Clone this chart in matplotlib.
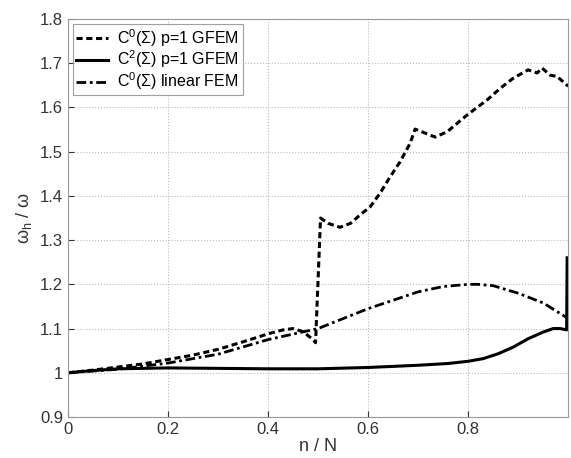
import matplotlib.pyplot as plt

plt.rcParams["font.family"] = ["Liberation Sans", "DejaVu Sans"]
plt.rcParams["mathtext.fontset"] = "custom"
plt.rcParams["mathtext.rm"] = "Liberation Sans"

# C0(Sigma) p=1 GFEM (dashed)
x_gfem0 = [0, 0.05, 0.1, 0.15, 0.2, 0.25, 0.3, 0.35, 0.4, 0.43, 0.45, 0.47, 0.49, 0.495,
           0.505, 0.52, 0.544, 0.565, 0.584, 0.604, 0.624, 0.644, 0.664, 0.684, 0.694,
           0.734, 0.758, 0.798, 0.838, 0.864, 0.89, 0.92, 0.938, 0.948, 0.964, 0.978, 1.0]
y_gfem0 = [1.0, 1.006, 1.013, 1.02, 1.03, 1.04, 1.053, 1.07, 1.088, 1.097, 1.1, 1.093,
           1.075, 1.068, 1.35, 1.338, 1.329, 1.338, 1.357, 1.375, 1.406, 1.443, 1.477,
           1.519, 1.551, 1.533, 1.545, 1.583, 1.617, 1.643, 1.666, 1.685, 1.678, 1.689,
           1.673, 1.67, 1.648]

# C2(Sigma) p=1 GFEM (solid)
x_gfem2 = [0, 0.05, 0.1, 0.2, 0.3, 0.4, 0.5, 0.6, 0.7, 0.76, 0.8, 0.83, 0.86, 0.89,
           0.92, 0.95, 0.97, 0.984, 0.997, 0.998]
y_gfem2 = [1.0, 1.005, 1.009, 1.011, 1.01, 1.009, 1.009, 1.012, 1.017, 1.021, 1.026,
           1.032, 1.043, 1.058, 1.077, 1.092, 1.1, 1.1, 1.097, 1.26]

# C0(Sigma) linear FEM (dash-dot)
x_fem = [0, 0.1, 0.2, 0.3, 0.4, 0.5, 0.6, 0.7, 0.75, 0.8, 0.82, 0.85, 0.9, 0.95, 0.997]
y_fem = [1.0, 1.008, 1.022, 1.042, 1.075, 1.1, 1.145, 1.183, 1.195, 1.2, 1.2, 1.197,
         1.18, 1.158, 1.125]

fig = plt.figure(figsize=(5.71, 4.58), dpi=100)
ax = fig.add_axes([0.119, 0.0895, 0.876, 0.869])

ax.plot(x_gfem0, y_gfem0, color="black", lw=2.2, ls=(0, (2.0, 1.2)),
        label=r"C$^0$($\Sigma$) p=1 GFEM")
ax.plot(x_gfem2, y_gfem2, color="black", lw=2.2, ls="-",
        label=r"C$^2$($\Sigma$) p=1 GFEM")
ax.plot(x_fem, y_fem, color="black", lw=2.0, ls=(0, (3.5, 1.3, 1, 1.3)),
        label=r"C$^0$($\Sigma$) linear FEM")

ax.set_xlim(0, 1)
ax.set_ylim(0.9, 1.8)
ax.set_xticks([0, 0.2, 0.4, 0.6, 0.8])
ax.set_xticklabels(["0", "0.2", "0.4", "0.6", "0.8"])
ax.set_yticks([0.9, 1.0, 1.1, 1.2, 1.3, 1.4, 1.5, 1.6, 1.7, 1.8])
ax.set_yticklabels(["0.9", "1", "1.1", "1.2", "1.3", "1.4", "1.5", "1.6", "1.7", "1.8"])
ax.tick_params(direction="in", labelsize=12, colors="#333333", length=4)
for s in ax.spines.values():
    s.set_color("#999999")
ax.grid(True, ls=":", color="#bbbbbb", lw=0.8)

ax.set_xlabel("n / N", fontsize=13, color="#333333", labelpad=1)
ax.set_ylabel(r"ω$_\mathrm{h}$ / ω", fontsize=13, color="#333333", labelpad=4)

leg = ax.legend(loc="upper left", fontsize=11.5, frameon=True, fancybox=False,
                edgecolor="#888888", handlelength=2.0, borderaxespad=0.3,
                labelspacing=0.0, handletextpad=0.6, borderpad=0.2)
leg.get_frame().set_linewidth(0.8)

fig.savefig("out.png", dpi=100)
